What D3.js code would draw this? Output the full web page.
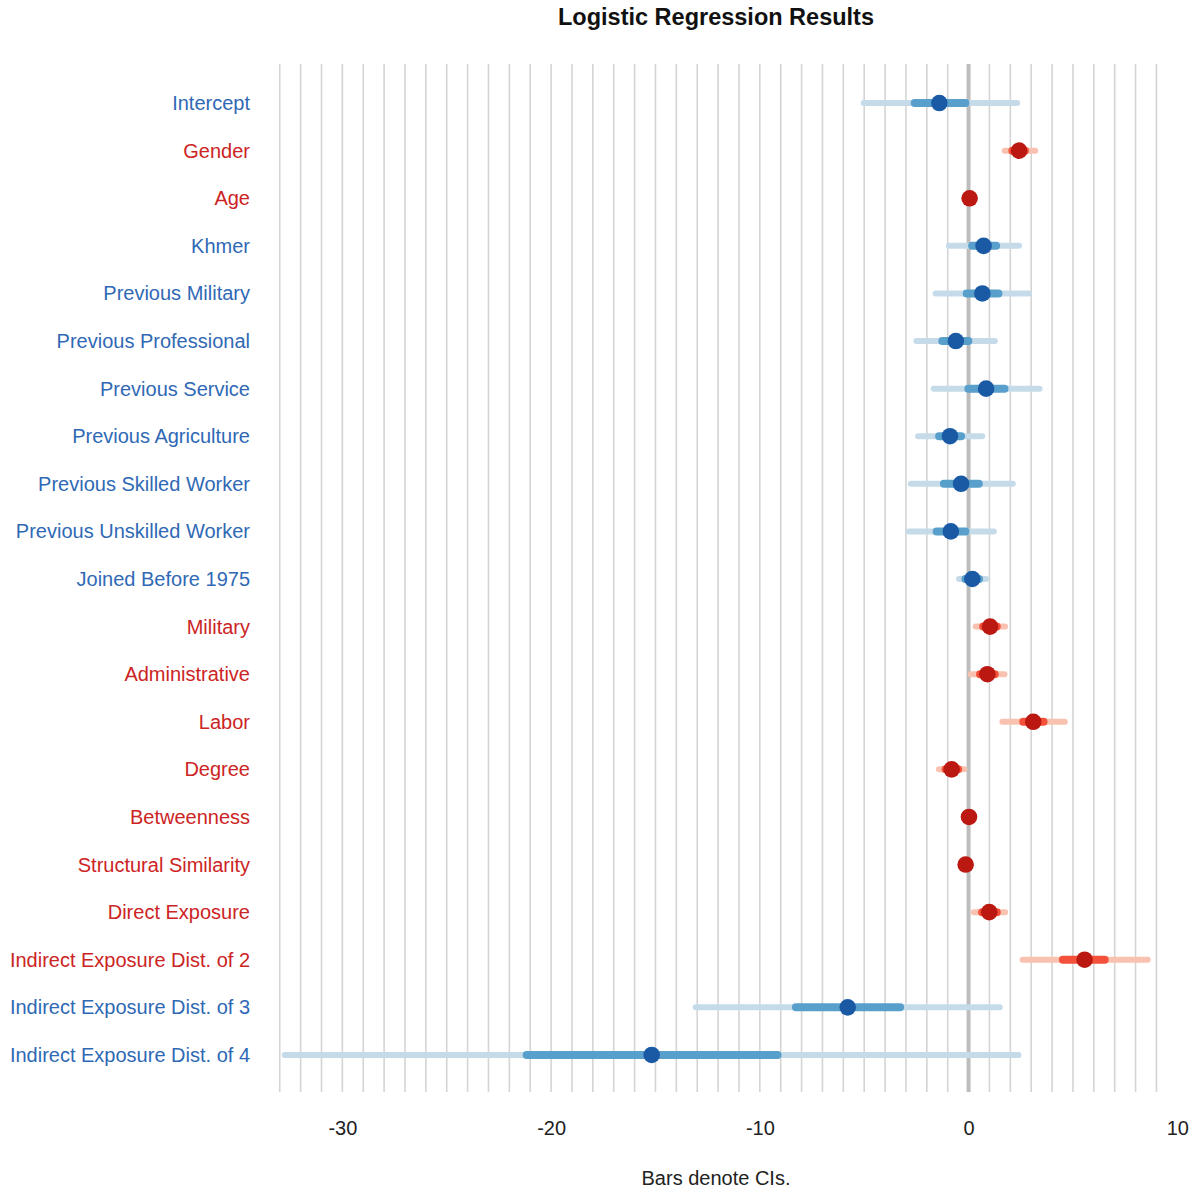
<!DOCTYPE html>
<html>
<head>
<meta charset="utf-8">
<script src="https://cdn.jsdelivr.net/npm/d3@7"></script>
<style>
  body { margin: 0; background: #fff; }
  svg { font-family: "Liberation Sans", Arial, Helvetica, sans-serif; }
</style>
</head>
<body>
<div id="graph-container"></div>
<script>
// coefficient names, top to bottom
const labels = [
  'Intercept', 'Gender', 'Age', 'Khmer', 'Previous Military', 'Previous Professional',
  'Previous Service', 'Previous Agriculture', 'Previous Skilled Worker',
  'Previous Unskilled Worker', 'Joined Before 1975', 'Military', 'Administrative',
  'Labor', 'Degree', 'Betweenness', 'Structural Similarity', 'Direct Exposure',
  'Indirect Exposure Dist. of 2', 'Indirect Exposure Dist. of 3', 'Indirect Exposure Dist. of 4'
];
// red rows = significant
const significant = [false, true, true, false, false, false, false, false, false, false,
  false, true, true, true, true, true, true, true, true, false, false];

const estimates = [-1.4, 2.42, 0.05, 0.72, 0.66, -0.61, 0.84, -0.89, -0.36, -0.85,
  0.18, 1.03, 0.9, 3.1, -0.81, 0.02, -0.14, 0.99, 5.56, -5.79, -15.18];
const outerLo = [-5.02, 1.73, 0.0, -0.94, -1.58, -2.5, -1.67, -2.42, -2.77, -2.87,
  -0.46, 0.34, 0.1, 1.62, -1.42, -0.03, -0.19, 0.25, 2.59, -13.07, -32.76];
const outerHi = [2.33, 3.19, 0.1, 2.42, 2.89, 1.26, 3.4, 0.65, 2.12, 1.21,
  0.84, 1.75, 1.72, 4.61, -0.2, 0.07, -0.09, 1.75, 8.58, 1.49, 2.39];
const innerLo = [-2.58, 2.1, 0.02, 0.17, -0.09, -1.26, -0.01, -1.41, -1.18, -1.53,
  -0.15, 0.7, 0.55, 2.62, -1.1, 0.0, -0.16, 0.65, 4.52, -8.27, -21.17];
const innerHi = [-0.15, 2.7, 0.08, 1.32, 1.43, -0.01, 1.72, -0.36, 0.49, -0.15,
  0.5, 1.35, 1.25, 3.59, -0.5, 0.04, -0.12, 1.35, 6.52, -3.28, -9.15];

const gridValues = d3.range(-33, 10);
const tickValues = [-30, -20, -10, 0, 10];

const width = 1198;
const height = 1190;

const blue = { outer: '#c6dbea', inner: '#589fcc', dot: '#1a5aa5', text: '#2f69b5' };
const red = { outer: '#f9c2b0', inner: '#f3513a', dot: '#bb1812', text: '#cc2424' };

const rows = labels.map((label, i) => ({
  label,
  est: estimates[i],
  olo: outerLo[i], ohi: outerHi[i],
  ilo: innerLo[i], ihi: innerHi[i],
  pal: significant[i] ? red : blue
}));

const x = d3.scaleLinear()
  .domain([-33.85, 9.65])
  .range([262, 1170]);

const y = d3.scalePoint()
  .domain(labels)
  .range([65, 1093])
  .padding(0.8);

const svg = d3.select('#graph-container')
  .append('svg')
  .attr('width', width)
  .attr('height', height);

// vertical grid
svg.append('g')
  .selectAll('line')
  .data(gridValues)
  .join('line')
  .attr('x1', d => x(d)).attr('x2', d => x(d))
  .attr('y1', 64).attr('y2', 1092)
  .attr('stroke', d => d === 0 ? '#bdbdbd' : '#d4d4d4')
  .attr('stroke-width', d => d === 0 ? 4 : 1.6);

const marks = svg.append('g');

marks.selectAll('line.outer')
  .data(rows)
  .join('line')
  .attr('class', 'outer')
  .attr('x1', d => x(d.olo)).attr('x2', d => x(d.ohi))
  .attr('y1', d => y(d.label)).attr('y2', d => y(d.label))
  .attr('stroke', d => d.pal.outer)
  .attr('stroke-width', 6)
  .attr('stroke-linecap', 'round');

marks.selectAll('line.inner')
  .data(rows)
  .join('line')
  .attr('class', 'inner')
  .attr('x1', d => x(d.ilo)).attr('x2', d => x(d.ihi))
  .attr('y1', d => y(d.label)).attr('y2', d => y(d.label))
  .attr('stroke', d => d.pal.inner)
  .attr('stroke-width', 8)
  .attr('stroke-linecap', 'round');

marks.selectAll('circle')
  .data(rows)
  .join('circle')
  .attr('cx', d => x(d.est))
  .attr('cy', d => y(d.label))
  .attr('r', 8.3)
  .attr('fill', d => d.pal.dot);

// row labels
svg.append('g')
  .selectAll('text')
  .data(rows)
  .join('text')
  .attr('x', 250)
  .attr('y', d => y(d.label))
  .attr('dy', '0.35em')
  .attr('text-anchor', 'end')
  .attr('font-size', 20)
  .attr('fill', d => d.pal.text)
  .text(d => d.label);

// x axis, labels only (plain hyphen minus like the original)
const xAxis = svg.append('g')
  .attr('transform', 'translate(0,1118)')
  .call(d3.axisBottom(x).tickValues(tickValues).tickSize(0).tickFormat(d => String(d)));
xAxis.select('.domain').remove();
xAxis.selectAll('text')
  .attr('font-size', 20)
  .attr('font-family', '"Liberation Sans", Arial, sans-serif')
  .attr('fill', '#222');

svg.append('text')
  .attr('x', 716)
  .attr('y', 1185)
  .attr('text-anchor', 'middle')
  .attr('font-size', 20)
  .attr('fill', '#222')
  .text('Bars denote CIs.');

svg.append('text')
  .attr('x', 716)
  .attr('y', 25)
  .attr('text-anchor', 'middle')
  .attr('font-size', 23.5)
  .attr('font-weight', 'bold')
  .attr('fill', '#111')
  .text('Logistic Regression Results');
</script>
</body>
</html>
